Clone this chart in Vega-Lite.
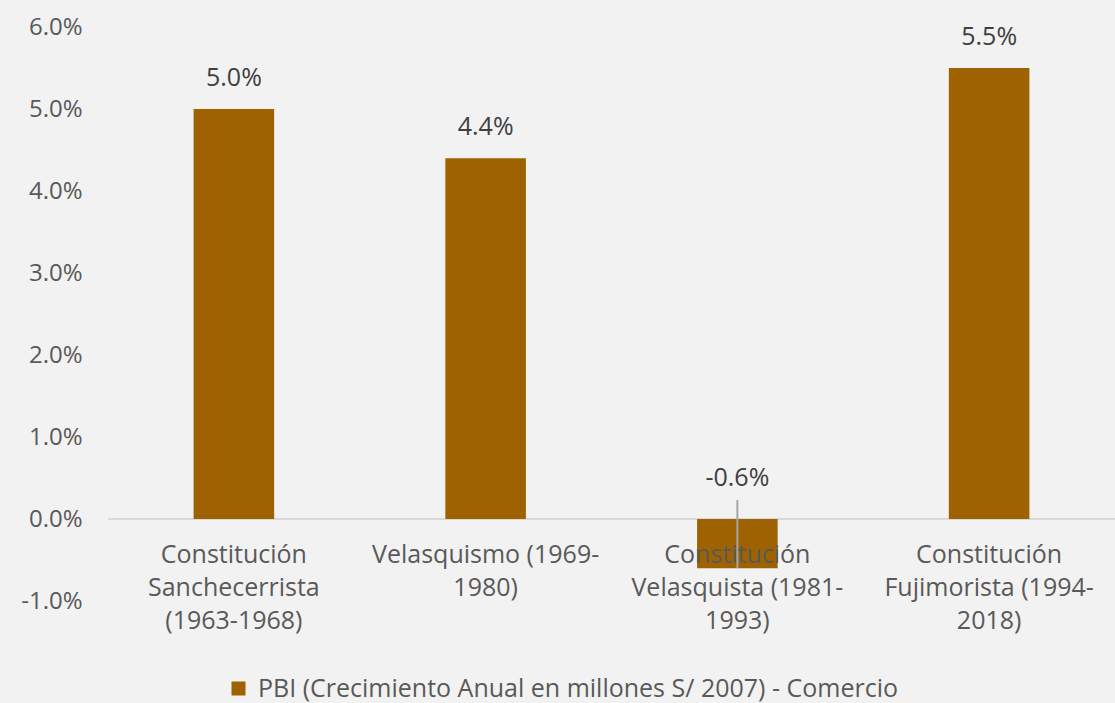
{
  "$schema": "https://vega.github.io/schema/vega-lite/v6.json",
  "autosize": "none",
  "width": 1007,
  "height": 574,
  "padding": {"left": 108, "top": 27, "right": 0, "bottom": 102},
  "background": "#F2F2F2",
  "config": {
    "view": {"stroke": null},
    "font": "Open Sans",
    "locale": {"number": {"decimal": ".", "thousands": ",", "grouping": [3], "currency": ["$", ""], "minus": "-"}},
    "axis": {"labelFont": "Open Sans", "labelColor": "#595959", "labelFontSize": 24, "grid": false, "ticks": false, "domain": false, "labelLimit": 0},
    "legend": {"labelFont": "Open Sans", "labelColor": "#595959", "labelFontSize": 25, "labelLimit": 0}
  },
  "data": {
    "values": [
      {"periodo": "Constitución|Sanchecerrista|(1963-1968)", "valor": 0.050, "serie": "PBI (Crecimiento Anual en millones S/ 2007) - Comercio"},
      {"periodo": "Velasquismo (1969-|1980)", "valor": 0.044, "serie": "PBI (Crecimiento Anual en millones S/ 2007) - Comercio"},
      {"periodo": "Constitución|Velasquista (1981-|1993)", "valor": -0.006, "serie": "PBI (Crecimiento Anual en millones S/ 2007) - Comercio"},
      {"periodo": "Constitución|Fujimorista (1994-|2018)", "valor": 0.055, "serie": "PBI (Crecimiento Anual en millones S/ 2007) - Comercio"}
    ]
  },
  "layer": [
    {
      "mark": {"type": "rule", "color": "#D9D9D9", "strokeWidth": 2},
      "encoding": {"y": {"datum": 0, "type": "quantitative"}}
    },
    {
      "mark": {"type": "bar"},
      "encoding": {
        "x": {
          "field": "periodo", "type": "nominal", "sort": null, "title": null,
          "scale": {"paddingInner": 0.68, "paddingOuter": 0.34},
          "axis": {"orient": "bottom", "offset": -82, "zindex": 1, "labelAngle": 0, "labelPadding": 23, "labelBaseline": "top", "labelLineHeight": 33, "labelFontSize": 25, "labelExpr": "split(datum.value, '|')"}
        },
        "y": {"field": "valor", "type": "quantitative", "title": null,
          "scale": {"domain": [-0.01, 0.06], "nice": false},
          "axis": {"format": ".1%", "values": [-0.01, 0, 0.01, 0.02, 0.03, 0.04, 0.05, 0.06], "labelPadding": 26}},
        "color": {"field": "serie", "type": "nominal", "title": null,
          "scale": {"range": ["#9E6200"]},
          "legend": {"orient": "none", "legendX": 118, "legendY": 649, "direction": "horizontal", "symbolType": "square", "symbolSize": 196, "labelOffset": 7}}
      }
    },
    {
      "transform": [{"filter": "datum.valor < 0"}],
      "mark": {"type": "rule", "color": "#A6A6A6", "strokeWidth": 2},
      "encoding": {
        "x": {"field": "periodo", "type": "nominal", "sort": null},
        "y": {"field": "valor", "type": "quantitative"},
        "y2": {"datum": 0.0023}
      }
    },
    {
      "transform": [{"filter": "datum.valor >= 0"}],
      "mark": {"type": "text", "baseline": "middle", "dy": -31, "fontSize": 25, "color": "#404040"},
      "encoding": {
        "x": {"field": "periodo", "type": "nominal", "sort": null},
        "y": {"field": "valor", "type": "quantitative"},
        "text": {"field": "valor", "type": "quantitative", "format": ".1%"}
      }
    },
    {
      "transform": [{"filter": "datum.valor < 0"}],
      "mark": {"type": "text", "baseline": "middle", "dy": -41, "fontSize": 25, "color": "#404040"},
      "encoding": {
        "x": {"field": "periodo", "type": "nominal", "sort": null},
        "y": {"datum": 0, "type": "quantitative"},
        "text": {"field": "valor", "type": "quantitative", "format": ".1%"}
      }
    }
  ]
}
